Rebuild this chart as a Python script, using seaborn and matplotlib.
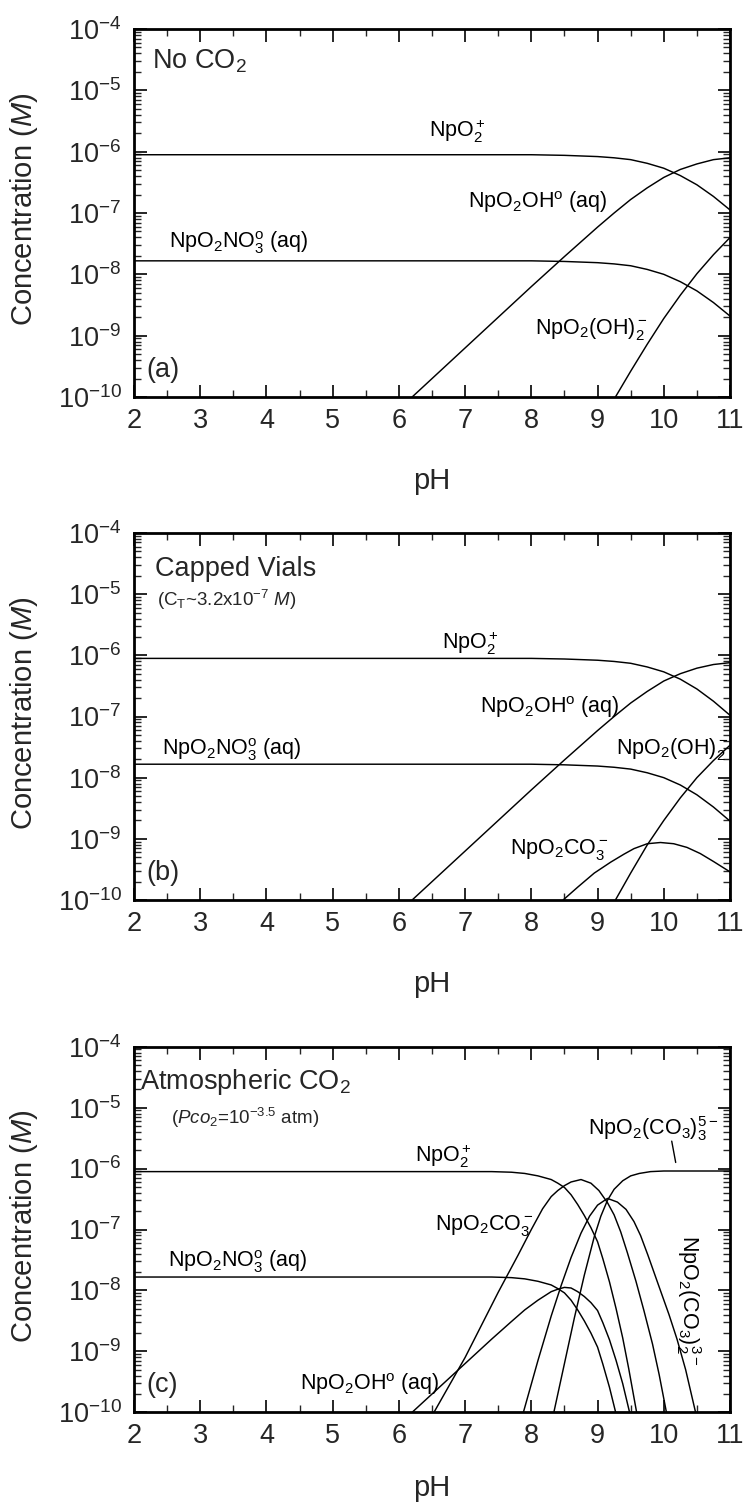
import numpy as np
import pandas as pd
import matplotlib
matplotlib.use("Agg")
import matplotlib.pyplot as plt
import seaborn as sns
from matplotlib.ticker import LogLocator, MultipleLocator, FuncFormatter, NullFormatter

# ---------------- data: log10 concentration (M) versus pH ----------------
# Panel (a) - No CO2
a_ph_main = [2, 8, 8.5, 9, 9.25, 9.5, 9.75, 10, 10.25, 10.5, 10.75, 11]
a_npo2 = [-6.05, -6.05, -6.06, -6.08, -6.10, -6.13, -6.19, -6.27, -6.39, -6.54, -6.73, -6.95]
a_no3 = [-7.78, -7.78, -7.79, -7.81, -7.83, -7.86, -7.92, -8.00, -8.12, -8.27, -8.46, -8.68]
a_oh_ph = [6.2, 7, 8, 8.5, 9, 9.25, 9.5, 9.75, 10, 10.25, 10.5, 10.75, 11]
a_oh = [-10, -9.2, -8.2, -7.71, -7.23, -7.0, -6.78, -6.59, -6.42, -6.29, -6.2, -6.13, -6.1]
a_oh2_ph = [9.27, 9.5, 9.75, 10, 10.25, 10.5, 10.75, 11]
a_oh2 = [-10, -9.58, -9.14, -8.72, -8.34, -7.99, -7.68, -7.4]

# Panel (b) - Capped vials
b_ph_main = [2, 8, 8.5, 9, 9.25, 9.5, 9.75, 10, 10.25, 10.5, 10.75, 11]
b_npo2 = [-6.05, -6.05, -6.06, -6.08, -6.10, -6.13, -6.19, -6.27, -6.39, -6.55, -6.75, -6.98]
b_no3 = [-7.78, -7.78, -7.79, -7.81, -7.83, -7.86, -7.92, -8.00, -8.12, -8.28, -8.48, -8.71]
b_oh_ph = [6.2, 7, 8, 8.5, 9, 9.25, 9.5, 9.75, 10, 10.25, 10.5, 10.75, 11]
b_oh = [-10, -9.2, -8.2, -7.71, -7.23, -7.0, -6.78, -6.59, -6.42, -6.3, -6.21, -6.15, -6.12]
b_oh2_ph = [9.27, 9.5, 9.75, 10, 10.25, 10.5, 10.75, 11]
b_oh2 = [-10, -9.56, -9.1, -8.7, -8.33, -8.0, -7.72, -7.47]
b_co3_ph = [8.48, 8.7, 8.95, 9.2, 9.4, 9.55, 9.75, 9.95, 10.15, 10.35, 10.55, 10.75, 11]
b_co3 = [-10, -9.79, -9.56, -9.38, -9.25, -9.16, -9.08, -9.06, -9.08, -9.14, -9.24, -9.37, -9.54]

# Panel (c) - Atmospheric CO2
c_npo2_ph = [2, 7.4, 7.7, 7.9, 8.1, 8.3, 8.4, 8.5, 8.6, 8.7, 8.8, 8.9, 9.0, 9.08, 9.18, 9.28, 9.38, 9.47, 9.56, 9.59]
c_npo2 = [-6.05, -6.05, -6.06, -6.08, -6.12, -6.18, -6.24, -6.31, -6.43, -6.59, -6.77, -6.97, -7.2, -7.48,
          -7.86, -8.3, -8.78, -9.28, -9.82, -10]
c_no3_ph = [2, 7.4, 7.7, 7.9, 8.1, 8.3, 8.4, 8.5, 8.6, 8.7, 8.8, 8.9, 9.0, 9.08, 9.18, 9.28]
c_no3 = [-7.78, -7.78, -7.79, -7.81, -7.85, -7.91, -7.97, -8.04, -8.16, -8.32, -8.5, -8.7, -8.93, -9.21, -9.59, -10.03]
c_oh_ph = [6.2, 6.6, 7.0, 7.4, 7.7, 7.9, 8.1, 8.3, 8.4, 8.5, 8.6, 8.7, 8.8, 8.9, 9.0, 9.08, 9.18, 9.28, 9.38, 9.49]
c_oh = [-10, -9.6, -9.2, -8.8, -8.51, -8.32, -8.16, -8.02, -7.98, -7.95, -7.96, -8.02, -8.1, -8.2, -8.33, -8.53,
        -8.81, -9.15, -9.53, -10.03]
c_co3_ph = [6.53, 7.0, 7.5, 7.8, 8.0, 8.17, 8.3, 8.4, 8.5, 8.6, 8.75, 8.9, 9.02, 9.15, 9.25, 9.35, 9.45, 9.58,
            9.7, 9.83, 9.93, 10.04]
c_co3 = [-10, -9.1, -8.03, -7.42, -7.0, -6.66, -6.46, -6.36, -6.28, -6.22, -6.18, -6.24, -6.36, -6.56, -6.76,
         -7.04, -7.38, -7.85, -8.33, -8.88, -9.38, -10]
c_co3_2_ph = [7.88, 8.1, 8.3, 8.45, 8.6, 8.75, 8.88, 9.0, 9.15, 9.3, 9.43, 9.55, 9.65, 9.76, 9.9, 10.08, 10.2,
              10.33, 10.48]
c_co3_2 = [-10, -9.15, -8.42, -7.92, -7.46, -7.06, -6.78, -6.6, -6.49, -6.55, -6.67, -6.87, -7.1, -7.42, -7.85,
           -8.4, -8.8, -9.3, -10]
c_co3_3_ph = [8.34, 8.5, 8.65, 8.8, 8.95, 9.05, 9.15, 9.25, 9.38, 9.5, 9.63, 9.8, 10.0, 11]
c_co3_3 = [-10, -9.2, -8.45, -7.75, -7.12, -6.78, -6.52, -6.34, -6.2, -6.12, -6.08, -6.05, -6.04, -6.04]

x_ticks = [2, 3, 4, 5, 6, 7, 8, 9, 10, 11]

# ---------------- styling ----------------
sns.set_theme(style="ticks")
plt.rcParams["font.family"] = ["Liberation Sans", "DejaVu Sans"]
plt.rcParams["mathtext.fontset"] = "custom"
plt.rcParams["mathtext.rm"] = "Liberation Sans"
plt.rcParams["mathtext.it"] = "Liberation Sans:italic"
plt.rcParams["mathtext.bf"] = "Liberation Sans:bold"
plt.rcParams["mathtext.sf"] = "Liberation Sans"

fig = plt.figure(figsize=(7.45, 15.05), dpi=100)

W, H = 745.0, 1505.0
left_px, right_px = 134.0, 730.0
panels_px = [(29.0, 397.0), (533.0, 900.0), (1046.7, 1412.3)]

LW = 1.05
LBL = 15.5
TITLE = 19.5
SUB = 13.5
TICK = 19.5


def make_axes(top, bottom):
    return fig.add_axes([left_px / W, 1 - bottom / H, (right_px - left_px) / W, (bottom - top) / H])


def draw(ax, ph, logc):
    df = pd.DataFrame({"pH": ph, "conc": np.power(10.0, np.asarray(logc, dtype=float))})
    sns.lineplot(data=df, x="pH", y="conc", ax=ax, color="black", linewidth=LW,
                 estimator=None, sort=False)


def style_axes(ax, xlabel_y=-0.19):
    ax.set_yscale("log")
    ax.set_xlim(2, 11)
    ax.set_ylim(1e-10, 1e-4)
    ax.set_xticks(x_ticks)
    ax.xaxis.set_minor_locator(MultipleLocator(0.5))
    ax.yaxis.set_major_locator(LogLocator(base=10, numticks=12))
    ax.yaxis.set_minor_locator(LogLocator(base=10, subs=np.arange(2, 10), numticks=12))
    ax.yaxis.set_minor_formatter(NullFormatter())
    ax.yaxis.set_major_formatter(FuncFormatter(lambda v, p: r"$10^{%d}$" % int(round(np.log10(v)))))
    ax.tick_params(axis="both", which="both", direction="in", top=True, right=True)
    ax.tick_params(axis="both", which="major", length=9, width=1.4)
    ax.tick_params(axis="both", which="minor", length=5, width=1.0)
    ax.tick_params(axis="x", which="major", labelsize=TICK, pad=8)
    ax.tick_params(axis="y", which="major", labelsize=TICK, pad=9)
    for s in ax.spines.values():
        s.set_linewidth(2.0)
        s.set_color("black")
    ax.set_xlabel("pH", fontsize=21)
    ax.xaxis.set_label_coords(0.5, xlabel_y)
    ax.set_ylabel(r"Concentration ($M$)", fontsize=21)
    ax.yaxis.set_label_coords(-0.158, 0.51)


def lbl(ax, x, logy, s, **kw):
    ax.text(x, 10 ** logy, s, fontsize=kw.pop("fontsize", LBL), ha=kw.pop("ha", "left"),
            va=kw.pop("va", "baseline"), color="black", **kw)


# ---------------- panel (a) ----------------
ax_a = make_axes(*panels_px[0])
draw(ax_a, a_ph_main, a_npo2)
draw(ax_a, a_ph_main, a_no3)
draw(ax_a, a_oh_ph, a_oh)
draw(ax_a, a_oh2_ph, a_oh2)
style_axes(ax_a)
ax_a.text(0.03, 0.894, r"No CO$_2$", transform=ax_a.transAxes, fontsize=TITLE, va="baseline")
ax_a.text(0.02, 0.055, "(a)", transform=ax_a.transAxes, fontsize=TITLE, va="baseline")
lbl(ax_a, 6.45, -5.76, r"NpO$_2^+$")
lbl(ax_a, 7.05, -6.92, r"NpO$_2$OH$^\mathrm{o}$ (aq)")
lbl(ax_a, 2.53, -7.57, r"NpO$_2$NO$_3^\mathrm{o}$ (aq)")
lbl(ax_a, 8.05, -8.98, r"NpO$_2$(OH)$_2^-$")

# ---------------- panel (b) ----------------
ax_b = make_axes(*panels_px[1])
draw(ax_b, b_ph_main, b_npo2)
draw(ax_b, b_ph_main, b_no3)
draw(ax_b, b_oh_ph, b_oh)
draw(ax_b, b_oh2_ph, b_oh2)
draw(ax_b, b_co3_ph, b_co3)
style_axes(ax_b)
ax_b.text(0.035, 0.883, "Capped Vials", transform=ax_b.transAxes, fontsize=TITLE, va="baseline")
ax_b.text(0.038, 0.80, r"(C$_\mathrm{T}$~3.2x10$^{-7}$ $M$)", transform=ax_b.transAxes, fontsize=SUB,
          va="baseline")
ax_b.text(0.02, 0.055, "(b)", transform=ax_b.transAxes, fontsize=TITLE, va="baseline")
lbl(ax_b, 6.65, -5.90, r"NpO$_2^+$")
lbl(ax_b, 7.22, -6.95, r"NpO$_2$OH$^\mathrm{o}$ (aq)")
lbl(ax_b, 2.42, -7.63, r"NpO$_2$NO$_3^\mathrm{o}$ (aq)")
lbl(ax_b, 10.98, -7.61, r"NpO$_2$(OH)$_2^-$", ha="right")
lbl(ax_b, 7.68, -9.25, r"NpO$_2$CO$_3^-$")

# ---------------- panel (c) ----------------
ax_c = make_axes(*panels_px[2])
draw(ax_c, c_npo2_ph, c_npo2)
draw(ax_c, c_no3_ph, c_no3)
draw(ax_c, c_oh_ph, c_oh)
draw(ax_c, c_co3_ph, c_co3)
draw(ax_c, c_co3_2_ph, c_co3_2)
draw(ax_c, c_co3_3_ph, c_co3_3)
style_axes(ax_c, xlabel_y=-0.168)
ax_c.text(0.01, 0.884, r"Atmospheric CO$_2$", transform=ax_c.transAxes, fontsize=TITLE, va="baseline")
ax_c.text(0.062, 0.788, r"($\mathit{Pco}_2$=10$^{-3.5}$ atm)", transform=ax_c.transAxes, fontsize=SUB,
          va="baseline")
ax_c.text(0.02, 0.055, "(c)", transform=ax_c.transAxes, fontsize=TITLE, va="baseline")
lbl(ax_c, 6.25, -5.89, r"NpO$_2^+$")
lbl(ax_c, 8.86, -5.45, r"NpO$_2$(CO$_3$)$_3^{5-}$")
lbl(ax_c, 6.55, -7.0, r"NpO$_2$CO$_3^-$")
lbl(ax_c, 2.52, -7.61, r"NpO$_2$NO$_3^\mathrm{o}$ (aq)")
lbl(ax_c, 4.5, -9.63, r"NpO$_2$OH$^\mathrm{o}$ (aq)")
lbl(ax_c, 10.38, -8.16, r"NpO$_2$(CO$_3$)$_2^{3-}$", rotation=-90, ha="center", va="center")
ax_c.annotate("", xy=(10.18, 10 ** -5.9), xytext=(10.12, 10 ** -5.55),
              arrowprops=dict(arrowstyle="-", color="black", lw=1.0, shrinkA=0, shrinkB=0))

fig.savefig("out.png", dpi=100, facecolor="white")
